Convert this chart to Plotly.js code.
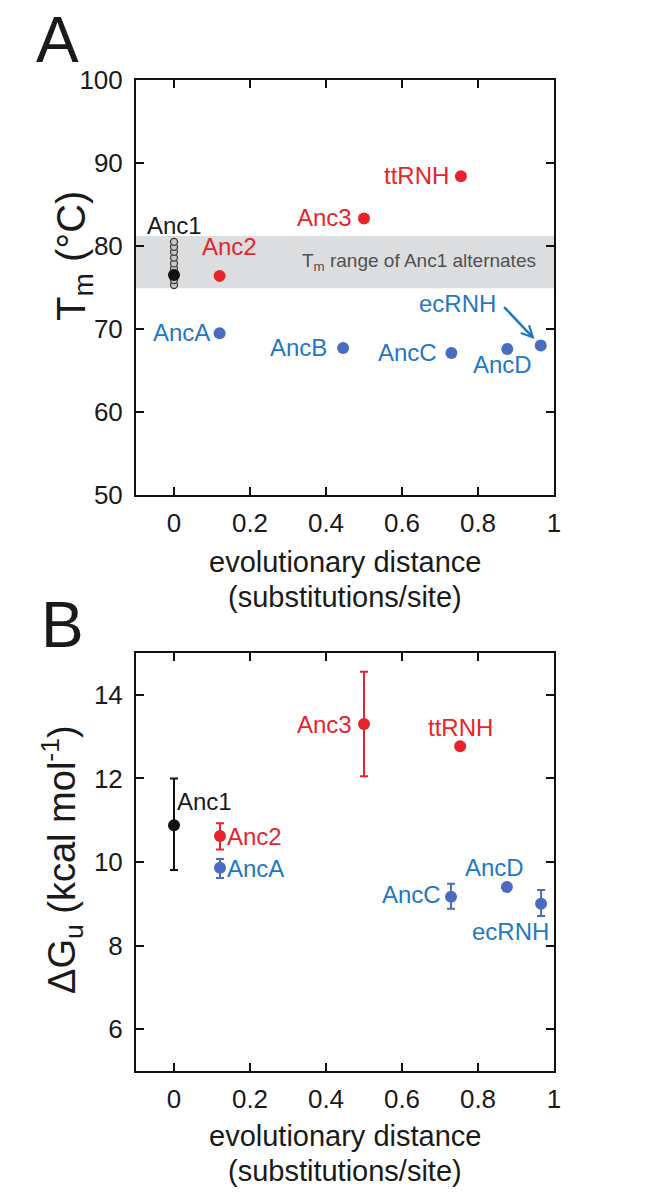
<!DOCTYPE html>
<html>
<head>
<meta charset="utf-8">
<script src="https://cdn.plot.ly/plotly-3.0.1.min.js"></script>
<style>html,body{margin:0;padding:0;background:#fff;}#chart{width:653px;height:1195px;}</style>
</head>
<body>
<div id="chart"></div>
<script>
// ---------- Data ----------
// Panel A: melting temperature (Tm, °C) vs evolutionary distance
const namesA = ['Anc1', 'Anc2', 'Anc3', 'ttRNH', 'AncA', 'AncB', 'AncC', 'AncD', 'ecRNH'];
const groupA = ['black', 'red', 'red', 'red', 'blue', 'blue', 'blue', 'blue', 'blue'];
const distA  = [0, 0.12, 0.5, 0.755, 0.12, 0.445, 0.73, 0.877, 0.965];
const tmA    = [76.5, 76.4, 83.3, 88.4, 69.5, 67.7, 67.1, 67.6, 68.0];
// Tm values of Anc1 alternates (open circles at distance 0)
const altDist = [0, 0, 0, 0, 0, 0, 0, 0, 0];
const altTm   = [75.3, 75.9, 76.6, 77.3, 77.9, 78.6, 79.3, 79.9, 80.5];
// Tm range of Anc1 alternates (gray band)
const bandTm = [74.9, 81.2];

// Panel B: ΔGu (kcal/mol) vs evolutionary distance
const namesB = ['Anc1', 'Anc2', 'Anc3', 'ttRNH', 'AncA', 'AncC', 'AncD', 'ecRNH'];
const groupB = ['black', 'red', 'red', 'red', 'blue', 'blue', 'blue', 'blue'];
const distB  = [0, 0.121, 0.5, 0.753, 0.121, 0.729, 0.876, 0.966];
const dgB    = [10.88, 10.62, 13.30, 12.77, 9.86, 9.17, 9.40, 9.00];
const errPlusB  = [1.12, 0.31, 1.25, null, 0.21, 0.31, null, 0.33];
const errMinusB = [1.07, 0.32, 1.25, null, 0.24, 0.29, null, 0.29];

const xTickVals = [0, 0.2, 0.4, 0.6, 0.8, 1];
const xTickText = ['0', '0.2', '0.4', '0.6', '0.8', '1'];

// ---------- Styles ----------
const FONT = 'Liberation Sans, Arial, Helvetica, sans-serif';
const markerColor = {black: '#111111', red: '#e8232b', blue: '#4a6cc0'};
const textColor   = {black: '#1a1a1a', red: '#e8232b', blue: '#1f78c4'};

// label placements (pixel offsets relative to the data point)
const labelPosA = {
  Anc1:  {xanchor: 'center', xshift: 0,   yshift: 50},
  Anc2:  {xanchor: 'center', xshift: 10,  yshift: 29},
  Anc3:  {xanchor: 'right',  xshift: -10, yshift: 1},
  ttRNH: {xanchor: 'right',  xshift: -10, yshift: 1},
  AncA:  {xanchor: 'right',  xshift: -8,  yshift: 1},
  AncB:  {xanchor: 'right',  xshift: -14, yshift: 1},
  AncC:  {xanchor: 'right',  xshift: -12, yshift: 1},
  AncD:  {xanchor: 'center', xshift: -5,  yshift: -16},
  ecRNH: {xanchor: 'center', xshift: -83, yshift: 42}
};
const labelPosB = {
  Anc1:  {xanchor: 'left',   xshift: 1,   yshift: 24},
  Anc2:  {xanchor: 'left',   xshift: 5,   yshift: 0},
  Anc3:  {xanchor: 'right',  xshift: -10, yshift: 0},
  ttRNH: {xanchor: 'center', xshift: 0,   yshift: 19},
  AncA:  {xanchor: 'left',   xshift: 5,   yshift: -1},
  AncC:  {xanchor: 'right',  xshift: -8,  yshift: 2},
  AncD:  {xanchor: 'center', xshift: -12, yshift: 20},
  ecRNH: {xanchor: 'center', xshift: -31, yshift: -28}
};

// ---------- Traces ----------
const traces = [];

// Panel A: alternates
traces.push({
  type: 'scatter', mode: 'markers', x: altDist, y: altTm, xaxis: 'x', yaxis: 'y',
  marker: {size: 7, color: '#c8c8c8', line: {color: '#3a3a3a', width: 1.3}},
  hoverinfo: 'skip', showlegend: false
});
['black', 'red', 'blue'].forEach(g => {
  const idx = groupA.map((v, i) => v === g ? i : -1).filter(i => i >= 0);
  traces.push({
    type: 'scatter', mode: 'markers', xaxis: 'x', yaxis: 'y',
    x: idx.map(i => distA[i]), y: idx.map(i => tmA[i]), text: idx.map(i => namesA[i]),
    marker: {size: 12, color: markerColor[g]}, showlegend: false
  });
});

// Panel B
['black', 'red', 'blue'].forEach(g => {
  const idx = groupB.map((v, i) => v === g ? i : -1).filter(i => i >= 0);
  traces.push({
    type: 'scatter', mode: 'markers', xaxis: 'x2', yaxis: 'y2',
    x: idx.map(i => distB[i]), y: idx.map(i => dgB[i]), text: idx.map(i => namesB[i]),
    error_y: {type: 'data', symmetric: false,
      array: idx.map(i => errPlusB[i]), arrayminus: idx.map(i => errMinusB[i]),
      color: markerColor[g], thickness: 2, width: 4},
    marker: {size: 12, color: markerColor[g]}, showlegend: false
  });
});

// ---------- Annotations ----------
const annotations = [];
namesA.forEach((n, i) => {
  const p = labelPosA[n];
  annotations.push({
    xref: 'x', yref: 'y', x: distA[i], y: tmA[i], text: n, showarrow: false,
    xanchor: p.xanchor, yanchor: 'middle', xshift: p.xshift, yshift: p.yshift,
    font: {family: FONT, size: 24, color: textColor[groupA[i]]}
  });
});
// arrow pointing to ecRNH
const ei = namesA.indexOf('ecRNH');
annotations.push({
  xref: 'x', yref: 'y', x: distA[ei], y: tmA[ei], text: '', showarrow: true,
  ax: -38, ay: -40, axref: 'pixel', ayref: 'pixel', standoff: 9,
  arrowhead: 5, arrowsize: 0.9, arrowwidth: 2.5, arrowcolor: '#1f78c4'
});
namesB.forEach((n, i) => {
  const p = labelPosB[n];
  annotations.push({
    xref: 'x2', yref: 'y2', x: distB[i], y: dgB[i], text: n, showarrow: false,
    xanchor: p.xanchor, yanchor: 'middle', xshift: p.xshift, yshift: p.yshift,
    font: {family: FONT, size: 24, color: textColor[groupB[i]]}
  });
});
// band text
annotations.push({
  xref: 'x', yref: 'y', x: 0.99, y: (bandTm[0] + bandTm[1]) / 2, xshift: -12,
  text: 'T<sub>m</sub> range of Anc1 alternates', showarrow: false,
  xanchor: 'right', yanchor: 'middle', font: {family: FONT, size: 19, color: '#505050'}
});
// panel letters
annotations.push({xref: 'paper', yref: 'paper', x: 57 / 653, y: 1 - 40 / 1195, text: 'A',
  showarrow: false, xanchor: 'center', yanchor: 'middle', font: {family: FONT, size: 64, color: '#1a1a1a'}});
annotations.push({xref: 'paper', yref: 'paper', x: 62 / 653, y: 1 - 625 / 1195, text: 'B',
  showarrow: false, xanchor: 'center', yanchor: 'middle', font: {family: FONT, size: 64, color: '#1a1a1a'}});
// axis titles
const xt1 = 'evolutionary distance', xt2 = '(substitutions/site)';
[[562, xt1], [597, xt2], [1136, xt1], [1171, xt2]].forEach(([py, t]) => {
  annotations.push({xref: 'paper', yref: 'paper', x: 345 / 653, y: 1 - py / 1195, text: t,
    showarrow: false, xanchor: 'center', yanchor: 'middle', font: {family: FONT, size: 29, color: '#1a1a1a'}});
});
annotations.push({xref: 'paper', yref: 'paper', x: 74 / 653, y: 1 - 256 / 1195,
  text: 'T<sub>m</sub> (°C)', textangle: -90, showarrow: false, xanchor: 'center', yanchor: 'middle',
  font: {family: FONT, size: 40, color: '#1a1a1a'}});
annotations.push({xref: 'paper', yref: 'paper', x: 62 / 653, y: 1 - 860 / 1195,
  text: 'ΔG<sub>u</sub> (kcal mol<sup>-1</sup>)', textangle: -90, showarrow: false, xanchor: 'center', yanchor: 'middle',
  font: {family: FONT, size: 38, color: '#1a1a1a'}});

// ---------- Layout ----------
const axCommon = {
  showline: true, linecolor: '#111', linewidth: 2, mirror: 'ticks',
  ticks: 'inside', ticklen: 8, tickwidth: 2, tickcolor: '#111',
  showgrid: false, zeroline: false, fixedrange: true,
  tickfont: {family: FONT, size: 26, color: '#1a1a1a'}
};
const xDomain = [136 / 653, 554 / 653];
const layout = {
  width: 653, height: 1195,
  margin: {l: 0, r: 0, t: 0, b: 0},
  paper_bgcolor: '#fff', plot_bgcolor: '#fff',
  showlegend: false,
  xaxis: Object.assign({}, axCommon, {domain: xDomain, range: [-0.1, 1.0], anchor: 'y',
    tickvals: xTickVals, ticktext: xTickText, ticklabelstandoff: 4}),
  yaxis: Object.assign({}, axCommon, {domain: [1 - 495 / 1195, 1 - 80 / 1195], range: [50, 100],
    dtick: 10, anchor: 'x', ticklabelstandoff: 6}),
  xaxis2: Object.assign({}, axCommon, {domain: xDomain, range: [-0.1, 1.0], anchor: 'y2',
    tickvals: xTickVals, ticktext: xTickText, ticklabelstandoff: 4}),
  yaxis2: Object.assign({}, axCommon, {domain: [1 - 1071 / 1195, 1 - 653 / 1195], range: [5, 15],
    tickvals: [6, 8, 10, 12, 14], anchor: 'x2', ticklabelstandoff: 6}),
  shapes: [{
    type: 'rect', xref: 'x domain', yref: 'y', x0: 0, x1: 1, y0: bandTm[0], y1: bandTm[1],
    fillcolor: '#dcdddf', line: {width: 0}, layer: 'below'
  }],
  annotations: annotations
};

Plotly.newPlot('chart', traces, layout, {staticPlot: true, displayModeBar: false});
</script>
</body>
</html>
